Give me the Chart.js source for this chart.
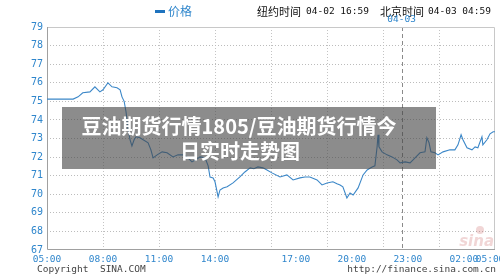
<!DOCTYPE html>
<html><head><meta charset="utf-8">
<script src="https://cdn.jsdelivr.net/npm/chart.js@4/dist/chart.umd.min.js"></script>
<style>html,body{margin:0;padding:0;background:#fff}#wrap{width:500px;height:277px;position:relative}</style>
</head><body><div id="wrap"><canvas id="c" width="500" height="277"></canvas></div>
<script>
// minutes since 05:00 (Beijing time) and price
const minutes = [0,84,100,115,138,154,170,180,196,209,225,235,241,248,254,260,267,273,280,286,299,309,325,334,341,354,370,386,405,421,437,450,466,482,492,508,518,524,534,540,550,556,566,579,598,620,636,653,665,678,694,707,723,749,771,791,813,829,845,868,884,900,919,932,942,951,964,974,984,1000,1016,1029,1045,1054,1061,1064,1067,1077,1093,1109,1125,1135,1151,1167,1183,1199,1215,1221,1228,1234,1247,1257,1273,1295,1311,1321,1331,1337,1350,1366,1376,1385,1398,1401,1414,1424,1434,1440];
const prices = [75.12,75.12,75.24,75.46,75.51,75.78,75.51,75.62,76.00,75.78,75.73,75.62,75.24,75.00,74.44,73.57,72.93,72.60,72.93,73.09,73.04,72.93,72.77,72.39,71.96,72.12,72.28,72.23,72.01,72.12,72.12,72.01,71.74,71.90,72.01,71.96,71.53,70.93,70.88,70.67,69.86,70.23,70.34,70.40,70.61,70.93,71.20,71.42,71.37,71.47,71.42,71.31,71.15,70.93,71.04,70.77,70.88,70.93,70.93,70.77,70.50,70.61,70.67,70.56,70.50,70.40,69.80,70.07,69.96,70.34,71.04,71.31,71.47,71.53,72.55,73.20,72.55,72.28,72.12,72.01,71.85,71.69,71.74,71.69,71.96,72.23,72.28,73.04,72.77,72.28,72.23,72.12,72.28,72.39,72.39,72.66,73.20,72.93,72.50,72.39,72.55,72.50,73.09,72.66,72.93,73.25,73.36,73.36];
const gridMinutes = [0,180,360,540,720,900,1080,1260];
const labelMinutes = [0,180,360,540,800,980,1160,1340,1424];
const tickLabels = ['05:00','08:00','11:00','14:00','17:00','20:00','23:00','02:00','05:00'];
const yMin = 67, yMax = 79;
const seriesName = '价格';
const nyLabel = '纽约时间', nyTime = '04-02 16:59';
const bjLabel = '北京时间', bjTime = '04-03 04:59';
const dateMark = '04-03', midnightMinute = 1140;
const overlayLines = ['豆油期货行情1805/豆油期货行情今', '日实时走势图'];
const copyText = 'Copyright  SINA.COM', urlText = 'http://finance.sina.com.cn';

const BLUE = '#2f86cc';
const MONO = '"DejaVu Sans Mono", "Liberation Mono", monospace';
const CJK = '"Noto Sans CJK SC", "Noto Sans", sans-serif';

const allTicks = Array.from(new Set(gridMinutes.concat(labelMinutes))).sort((a,b)=>a-b);

const deco = {
  id: 'deco',
  beforeDatasetsDraw(chart) {
    const {ctx, chartArea: a, scales} = chart;
    ctx.save();
    const mx = Math.round(scales.x.getPixelForValue(midnightMinute)) + 0.5;
    ctx.strokeStyle = '#8a8a8a'; ctx.lineWidth = 1; ctx.setLineDash([4,3]);
    ctx.beginPath(); ctx.moveTo(mx, a.top); ctx.lineTo(mx, a.bottom); ctx.stroke();
    ctx.setLineDash([]);
    ctx.strokeStyle = '#c8c8c8';
    ctx.beginPath(); ctx.moveTo(a.left, a.top+0.5); ctx.lineTo(a.right-0.5, a.top+0.5); ctx.lineTo(a.right-0.5, a.bottom); ctx.stroke();
    ctx.strokeStyle = '#a0a0a0';
    ctx.beginPath(); ctx.moveTo(a.left+0.5, a.top); ctx.lineTo(a.left+0.5, a.bottom-0.5); ctx.lineTo(a.right, a.bottom-0.5); ctx.stroke();
    // sina logo watermark
    ctx.font = 'italic bold 15px "DejaVu Sans", sans-serif';
    ctx.fillStyle = 'rgba(200,90,90,0.25)';
    ctx.textAlign = 'right'; ctx.textBaseline = 'alphabetic';
    ctx.fillText('sina', a.right - 1, a.bottom - 4);
    ctx.beginPath(); ctx.arc(a.right - 15, a.bottom - 20, 4, 0, Math.PI*2); ctx.fill();
    ctx.restore();
  },
  afterDraw(chart) {
    const {ctx, chartArea: a, scales} = chart;
    ctx.save();
    // overlay title
    ctx.fillStyle = 'rgba(70,70,70,0.62)';
    ctx.fillRect(62, 107, 374, 62);
    ctx.fillStyle = '#ffffff';
    ctx.font = 'bold 20px ' + CJK;
    ctx.textAlign = 'center'; ctx.textBaseline = 'middle';
    ctx.fillText(overlayLines[0], 239, 126);
    ctx.fillText(overlayLines[1], 240, 151);
    // legend
    ctx.fillStyle = '#1e73be';
    ctx.fillRect(155, 10, 10, 3);
    ctx.font = '12px ' + CJK; ctx.textAlign = 'left'; ctx.textBaseline = 'middle';
    ctx.fillStyle = BLUE;
    ctx.fillText(seriesName, 168, 11.5);
    // header times
    ctx.font = '11px ' + CJK;
    ctx.fillStyle = '#111';
    ctx.fillText(nyLabel, 257, 12);
    ctx.fillText(bjLabel, 380, 12);
    ctx.font = '9.5px ' + MONO;
    ctx.fillText(nyTime, 306, 12);
    ctx.fillText(bjTime, 428, 12);
    const mx = scales.x.getPixelForValue(midnightMinute);
    ctx.fillStyle = BLUE; ctx.textAlign = 'center';
    ctx.fillText(dateMark, mx, Math.min(20, a.top - 5));
    // footer
    ctx.fillStyle = '#444'; ctx.textAlign = 'left';
    ctx.fillText(copyText, 37, 270);
    ctx.textAlign = 'right';
    ctx.fillText(urlText, 496, 270);
    ctx.restore();
  }
};

new Chart(document.getElementById('c'), {
  type: 'line',
  data: {
    datasets: [{
      label: seriesName,
      data: minutes.map((m,i)=>({x:m, y:prices[i]})),
      borderColor: '#3b87c8',
      borderWidth: 1.1,
      pointRadius: 0,
      tension: 0,
      fill: false
    }]
  },
  options: {
    responsive: false,
    animation: false,
    devicePixelRatio: 1,
    layout: {padding: {top: 27, right: 5, left: 0, bottom: 0}},
    plugins: {legend: {display: false}, tooltip: {enabled: false}},
    scales: {
      x: {
        type: 'linear', min: 0, max: 1440,
        afterBuildTicks: s => { s.ticks = allTicks.map(v => ({value: v})); },
        afterFit: s => { s.height = 27; s.paddingLeft = 0; s.paddingRight = 0; },
        border: {display: false, dash: [1,2]},
        grid: {
          drawTicks: false,
          color: c => (c.tick && gridMinutes.includes(c.tick.value) && c.tick.value !== 0) ? '#c4c4c4' : 'rgba(0,0,0,0)'
        },
        ticks: {
          autoSkip: false, maxRotation: 0, padding: 4,
          color: BLUE, font: {family: MONO, size: 9.5},
          callback: v => { const i = labelMinutes.indexOf(v); return i >= 0 ? tickLabels[i] : ''; }
        }
      },
      y: {
        min: yMin, max: yMax,
        afterFit: s => { s.width = 47; },
        border: {display: false, dash: [1,2]},
        grid: {
          drawTicks: false,
          color: c => (c.tick && c.tick.value > yMin && c.tick.value < yMax) ? '#bcbcbc' : 'rgba(0,0,0,0)'
        },
        ticks: {stepSize: 1, padding: 4, color: BLUE, font: {family: MONO, size: 10}}
      }
    }
  },
  plugins: [deco]
});
</script></body></html>
